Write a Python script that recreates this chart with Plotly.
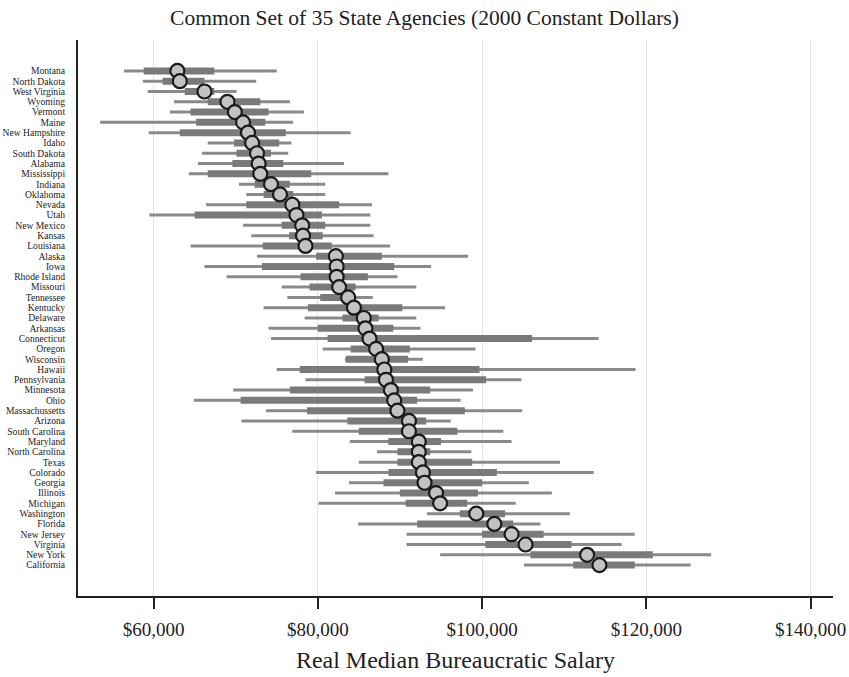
import plotly.graph_objects as go

# States ordered by median salary (top to bottom)
states = [
    "Montana", "North Dakota", "West Virginia", "Wyoming", "Vermont", "Maine",
    "New Hampshire", "Idaho", "South Dakota", "Alabama", "Mississippi", "Indiana",
    "Oklahoma", "Nevada", "Utah", "New Mexico", "Kansas", "Louisiana", "Alaska",
    "Iowa", "Rhode Island", "Missouri", "Tennessee", "Kentucky", "Delaware",
    "Arkansas", "Connecticut", "Oregon", "Wisconsin", "Hawaii", "Pennsylvania",
    "Minnesota", "Ohio", "Massachussetts", "Arizona", "South Carolina", "Maryland",
    "North Carolina", "Texas", "Colorado", "Georgia", "Illinois", "Michigan",
    "Washington", "Florida", "New Jersey", "Virginia", "New York", "California",
]

# Salaries in thousands of 2000 dollars
low = [56.4, 58.7, 59.3, 62.5, 62.0, 53.5, 59.4, 66.6, 65.9, 65.4, 64.3, 70.4,
       71.3, 66.4, 59.5, 70.9, 71.9, 64.5, 72.6, 66.2, 68.9, 75.6, 76.3, 73.4,
       78.4, 74.0, 74.3, 80.6, 83.3, 75.0, 78.5, 69.7, 64.9, 73.7, 70.7, 76.9,
       83.9, 87.2, 85.0, 79.8, 83.8, 82.1, 80.1, 93.3, 84.9, 90.8, 90.8, 94.9,
       105.1]
q1 = [58.8, 61.1, 63.8, 66.6, 64.5, 65.2, 63.2, 69.8, 70.1, 69.6, 66.6, 72.3,
      73.4, 71.3, 65.0, 75.6, 76.5, 73.3, 79.8, 73.2, 77.9, 79.0, 80.3, 78.8,
      83.0, 80.0, 81.2, 84.0, 83.4, 77.8, 85.7, 76.6, 70.6, 78.7, 83.6, 85.0,
      88.6, 89.7, 89.7, 88.6, 88.0, 90.0, 90.7, 97.3, 92.1, 100.0, 100.4, 105.9,
      111.1]
median = [62.9, 63.2, 66.2, 69.0, 69.9, 70.9, 71.5, 72.0, 72.6, 72.8, 73.0, 74.3,
          75.4, 76.9, 77.4, 78.1, 78.2, 78.5, 82.2, 82.3, 82.3, 82.6, 83.7, 84.4,
          85.6, 85.8, 86.3, 87.1, 87.8, 88.1, 88.3, 88.9, 89.3, 89.7, 91.1, 91.1,
          92.3, 92.3, 92.3, 92.8, 93.0, 94.4, 94.9, 99.3, 101.5, 103.6, 105.3,
          112.8, 114.3]
q3 = [67.4, 66.2, 67.4, 73.0, 74.0, 73.6, 76.1, 75.3, 74.3, 75.8, 79.2, 76.6,
      77.0, 82.6, 80.5, 80.9, 80.6, 81.7, 87.8, 89.3, 86.1, 84.6, 84.6, 90.3,
      87.4, 89.2, 106.1, 91.2, 91.0, 99.7, 100.5, 93.7, 92.1, 97.9, 93.2, 97.0,
      95.0, 93.7, 98.8, 101.8, 100.0, 99.5, 98.2, 102.8, 103.8, 107.5, 110.9,
      120.8, 118.6]
high = [75.0, 72.5, 70.1, 76.6, 78.3, 77.0, 84.0, 76.8, 76.4, 83.2, 88.6, 80.9,
        80.9, 86.6, 86.4, 86.4, 86.8, 88.8, 98.3, 93.8, 89.7, 92.0, 86.7, 95.5,
        92.0, 92.5, 114.2, 99.2, 92.8, 118.7, 104.8, 98.9, 97.4, 104.9, 96.2,
        102.6, 103.6, 98.7, 109.5, 113.6, 105.7, 108.5, 104.1, 110.7, 107.1,
        118.6, 117.0, 127.9, 125.4]

tick_values = [60000, 80000, 100000, 120000, 140000]
tick_labels = ["$60,000", "$80,000", "$100,000", "$120,000", "$140,000"]

SERIF = "Liberation Serif, Times New Roman, serif"
rows = list(range(len(states)))


def segments(starts, ends):
    xs, ys = [], []
    for i, (a, b) in enumerate(zip(starts, ends)):
        xs += [a * 1000, b * 1000, None]
        ys += [i, i, None]
    return xs, ys


wx, wy = segments(low, high)
bx, by = segments(q1, q3)

fig = go.Figure()
fig.add_trace(go.Scatter(x=wx, y=wy, mode="lines",
                         line=dict(color="#8a8a8a", width=3),
                         hoverinfo="skip", showlegend=False))
fig.add_trace(go.Scatter(x=bx, y=by, mode="lines",
                         line=dict(color="#7a7a7a", width=7),
                         hoverinfo="skip", showlegend=False))
fig.add_trace(go.Scatter(x=[m * 1000 for m in median], y=rows, mode="markers",
                         marker=dict(symbol="circle", size=14, color="#c2c2c2",
                                     line=dict(color="#1a1a1a", width=2.2)),
                         text=states, showlegend=False))

fig.update_layout(
    width=849, height=677,
    margin=dict(l=78, r=16, t=40, b=81),
    paper_bgcolor="white", plot_bgcolor="white",
    font=dict(family=SERIF, color="#222222"),
    title=dict(text="Common Set of 35 State Agencies (2000 Constant Dollars)",
               x=0.5, xanchor="center", y=0.974, yanchor="middle",
               font=dict(family=SERIF, size=21.5, color="#222222")),
    xaxis=dict(
        range=[50800, 142740],
        tickvals=tick_values, ticktext=tick_labels,
        tickfont=dict(family=SERIF, size=19, color="#222222"),
        ticks="outside", ticklen=11, tickwidth=1.5, tickcolor="#222222",
        ticklabelstandoff=4,
        showgrid=True, gridcolor="#e4e4e4", gridwidth=1,
        showline=True, linecolor="#222222", linewidth=2,
        zeroline=False, automargin=False,
        title=dict(text="Real Median Bureaucratic Salary", standoff=12,
                   font=dict(family=SERIF, size=24, color="#222222")),
    ),
    yaxis=dict(
        range=[51.0, -3.0],
        tickvals=rows, ticktext=states,
        tickfont=dict(family=SERIF, size=9.6, color="#222222"),
        ticks="", ticklabelstandoff=9,
        showgrid=False, zeroline=False, automargin=False,
        showline=True, linecolor="#222222", linewidth=2,
    ),
)

fig.write_html("out.html")
